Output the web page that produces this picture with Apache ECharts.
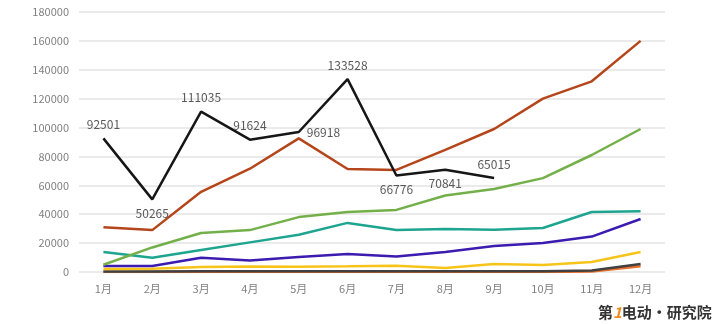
<!DOCTYPE html>
<html><head><meta charset="utf-8">
<script src="https://cdn.jsdelivr.net/npm/echarts@6/dist/echarts.min.js"></script>
<style>html,body{margin:0;padding:0;background:#fff}#c{width:720px;height:324px}</style>
</head><body><div id="c"></div>
<script>
const months = ['1月','2月','3月','4月','5月','6月','7月','8月','9月','10月','11月','12月'];
const blackVals  = [92501, 50265, 111035, 91624, 96918, 133528, 66776, 70841, 65015];
const blackLabelPos = ['top','bottom','top','top','right','top','bottom','bottom','top'];
const orangeVals = [31000, 29000, 55500, 71500, 92500, 71300, 70700, 84500, 99000, 120000, 132000, 160000];
const greenVals  = [5000, 17000, 27000, 29000, 38000, 41500, 43000, 53000, 57500, 65000, 81000, 99000];
const tealVals   = [13800, 9800, 15200, 20500, 25800, 34000, 29000, 29700, 29300, 30500, 41500, 42000];
const purpleVals = [4200, 4200, 9800, 8000, 10400, 12400, 10800, 13800, 18000, 20000, 24500, 36700];
const yellowVals = [2000, 2200, 3500, 3800, 3700, 3900, 4300, 2800, 5500, 4800, 6900, 13800];
const grayVals   = [400, 400, 600, 600, 600, 600, 600, 600, 600, 600, 1000, 5500];
const orange2Vals= [0, 0, 0, 0, 0, 0, 0, 0, 0, 0, 300, 4000];
const yTicks = [0, 20000, 40000, 60000, 80000, 100000, 120000, 140000, 160000, 180000];

const font = "'Noto Sans CJK SC', 'Noto Sans', sans-serif";
function line(name, data, color, z, width) {
  return {name, type:'line', data, symbol:'none', z: z||2,
    lineStyle:{color, width: width||2.5}, itemStyle:{color}};
}
const chart = echarts.init(document.getElementById('c'));
chart.setOption({
  animation:false,
  grid:{left:79, right:55, top:12, bottom:52},
  xAxis:{type:'category', data:months, boundaryGap:true,
    axisLine:{show:false}, axisTick:{show:false},
    axisLabel:{color:'#808080', fontSize:11, fontFamily:font, margin:11}},
  yAxis:{type:'value', min:yTicks[0], max:yTicks[yTicks.length-1], interval:20000,
    axisLine:{show:false}, axisTick:{show:false},
    axisLabel:{color:'#808080', fontSize:11, fontFamily:font, margin:10, formatter:v=>String(v)},
    splitLine:{lineStyle:{color:'#e3e3e3', width:1.5}}},
  series:[
    line('s8', orange2Vals, '#e8702a', 2, 2.5),
    line('s7', grayVals, '#404040', 3, 2.5),
    line('s6', yellowVals, '#f7c41a', 3, 2.5),
    line('s5', purpleVals, '#3b1bb0', 3, 2.5),
    line('s4', tealVals, '#1ea58f', 3, 2.5),
    line('s3', greenVals, '#74b04a', 3, 2.5),
    line('s2', orangeVals, '#b5461b', 4, 2.5),
    {name:'s1', type:'line', symbol:'circle', symbolSize:0, showSymbol:true, z:5,
     lineStyle:{color:'#161616', width:2.5}, itemStyle:{color:'#161616'},
     data: blackVals.map((v,i)=>({value:v, label:{position:blackLabelPos[i]}})),
     label:{show:true, color:'#595959', fontSize:12, fontFamily:font, distance:8}}
  ],
  graphic:[
    {type:'text', left:598, top:305, style:{
      text:'{a|第}{b|1}{a|电动·研究院}',
      rich:{a:{fontSize:15, fontWeight:'bold', fill:'#333', fontFamily:font},
            b:{fontSize:15, fontWeight:'bold', fill:'#f08a1c', fontFamily:font, fontStyle:'italic'}}}}
  ]
});
</script></body></html>
